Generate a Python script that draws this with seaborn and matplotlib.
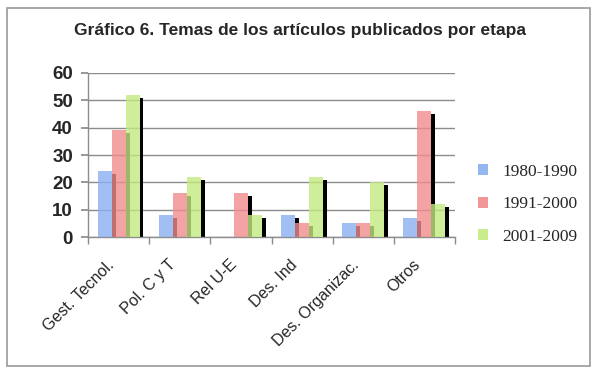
import matplotlib
matplotlib.use("Agg")
import matplotlib.pyplot as plt
from matplotlib.patches import Rectangle
from matplotlib.transforms import ScaledTranslation
import seaborn as sns
import pandas as pd

categories = ["Gest. Tecnol.", "Pol. C y T", "Rel U-E", "Des. Ind", "Des. Organizac.", "Otros"]
series_names = ["1980-1990", "1991-2000", "2001-2009"]
v_1980_1990 = [24, 8, 0, 8, 5, 7]
v_1991_2000 = [39, 16, 16, 5, 5, 46]
v_2001_2009 = [52, 22, 8, 22, 20, 12]
yticks = [0, 10, 20, 30, 40, 50, 60]
title = "Gráfico 6. Temas de los artículos publicados por etapa"

rows = []
for name, vals in zip(series_names, [v_1980_1990, v_1991_2000, v_2001_2009]):
    for c, v in zip(categories, vals):
        rows.append({"tema": c, "etapa": name, "valor": v})
df = pd.DataFrame(rows)

sns.set_theme(style="white")
plt.rcParams["font.family"] = ["Liberation Sans", "DejaVu Sans"]

fig = plt.figure(figsize=(6.0, 3.74), dpi=100)
ax = fig.add_axes([0.147, 0.366, 0.611, 0.439])

palette = ["#8AB0F0", "#F08C8C", "#C4EA80"]
sns.barplot(data=df, x="tema", y="valor", hue="etapa", order=categories,
            hue_order=series_names, palette=palette, width=0.68, saturation=1,
            alpha=0.8, ax=ax, zorder=3, legend=True, edgecolor="none")

# shadows behind each bar
for p in list(ax.patches):
    h = p.get_height()
    if h <= 0:
        continue
    sw = p.get_width() * 0.28
    ax.add_patch(Rectangle((p.get_x() + p.get_width(), 0), sw, max(h - 1, 0),
                           facecolor="black", edgecolor="none", zorder=2))

ax.set_ylim(0, 60)
ax.set_xlim(-0.5, len(categories) - 0.5)
ax.set_yticks(yticks)
ax.set_yticklabels([str(t) for t in yticks], fontsize=13.5, fontweight="semibold")
ax.yaxis.grid(True, color="#8C8C8C", linewidth=1.0, zorder=0)
ax.set_axisbelow(True)
ax.set_xlabel("")
ax.set_ylabel("")

for s in ["top", "right"]:
    ax.spines[s].set_visible(False)
for s in ["left", "bottom"]:
    ax.spines[s].set_color("#8C8C8C")
    ax.spines[s].set_linewidth(1.0)

ax.set_xticks(range(len(categories)))
ax.set_xticklabels([])
shift = ScaledTranslation(-12 / 100, -20 / 100, fig.dpi_scale_trans)
for i, c in enumerate(categories):
    ax.text(i, 0, c, transform=ax.get_xaxis_transform() + shift, rotation=45,
            ha="right", va="top", rotation_mode="anchor", fontsize=11.5)
ax.set_xticks([i + 0.5 for i in range(-1, len(categories))], minor=True)
ax.tick_params(axis="x", which="major", length=0)
ax.tick_params(axis="x", which="minor", length=5, color="#8C8C8C", direction="out", bottom=True)
ax.tick_params(axis="y", which="major", length=5, color="#8C8C8C", direction="out", left=True, pad=6)

leg = ax.legend(loc="center left", bbox_to_anchor=(1.02, 0.2), frameon=False,
                handlelength=0.6, handleheight=0.6, handletextpad=0.8,
                labelspacing=0.95, prop={"family": "Liberation Serif", "size": 12.5})
for h in leg.legend_handles:
    h.set_alpha(0.9)

fig.text(0.5, 0.918, title, ha="center", va="center", fontsize=12.5, fontweight="bold")

fig.patches.append(Rectangle((0.0117, 0.021), 0.972, 0.957, transform=fig.transFigure,
                             fill=False, edgecolor="#9A9A9A", linewidth=1.2))

fig.savefig("out.png", dpi=100)
